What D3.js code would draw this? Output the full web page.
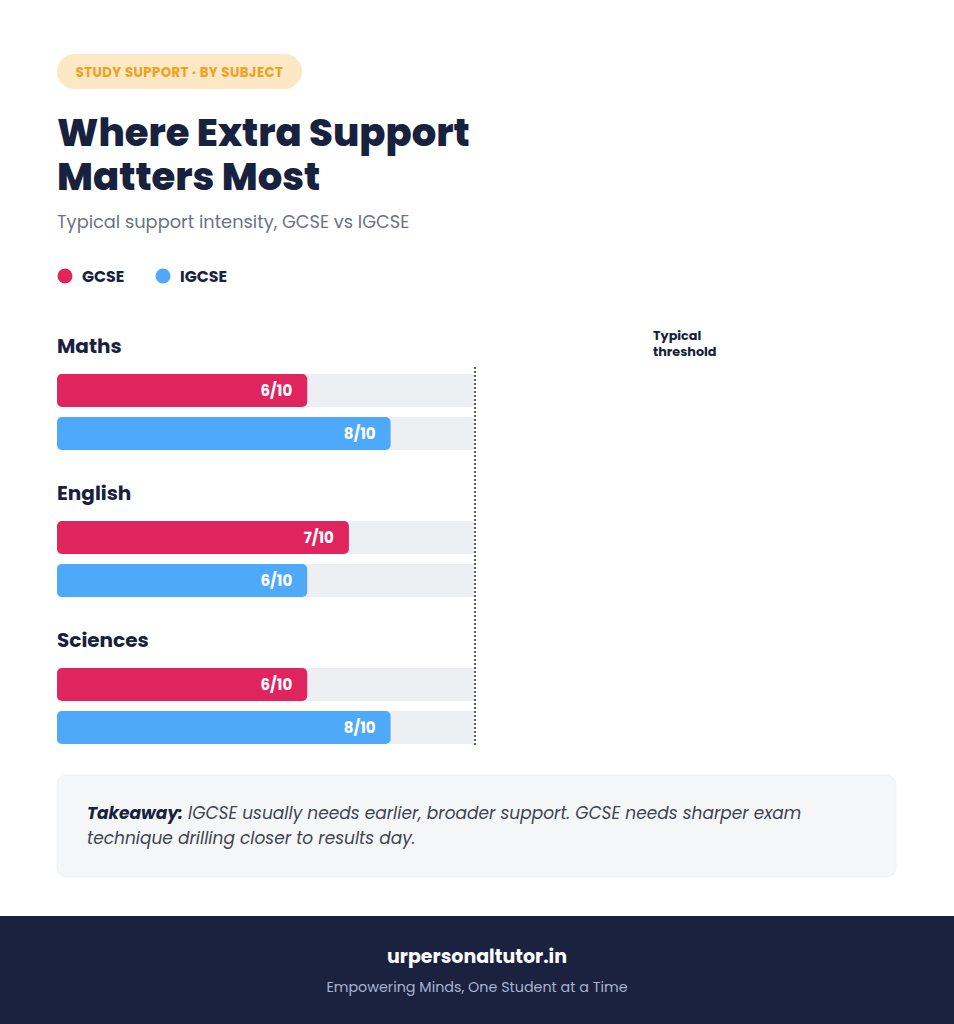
<!DOCTYPE html>
<html><head><meta charset="utf-8">
<script src="https://cdn.jsdelivr.net/npm/d3@7"></script>
<style>body{margin:0;background:#fff}svg{display:block;font-family:Poppins,Inter,"Noto Sans",sans-serif}</style>
</head><body><div id="chart"></div>
<script>
var subjects = ["Maths", "English", "Sciences"];
var series = ["GCSE", "IGCSE"];
var gcse = [6, 7, 6];
var igcse = [8, 6, 8];
var colors = {GCSE: "#e0245e", IGCSE: "#4fa9fb"};
var navy = "#18213d";

var W = 954, H = 1024;
var svg = d3.select("#chart").append("svg").attr("width", W).attr("height", H);

// header
svg.append("rect").attr("x", 57).attr("y", 54).attr("width", 245).attr("height", 35).attr("rx", 17.5).attr("fill", "#fde8c6");
svg.append("text").attr("x", 179.5).attr("y", 76.5).attr("text-anchor", "middle").attr("fill", "#f2a01c")
  .attr("font-size", 13.3).attr("font-weight", 700).attr("letter-spacing", 0.4).text("STUDY SUPPORT · BY SUBJECT");
svg.append("text").attr("x", 57).attr("y", 146).attr("fill", navy).attr("font-size", 38.5).attr("font-weight", 800).text("Where Extra Support");
svg.append("text").attr("x", 57).attr("y", 190).attr("fill", navy).attr("font-size", 38.5).attr("font-weight", 800).text("Matters Most");
svg.append("text").attr("x", 57).attr("y", 228).attr("fill", "#6b7280").attr("font-size", 17.8).text("Typical support intensity, GCSE vs IGCSE");

// legend
var lx = [65, 163];
series.forEach(function(s, i) {
  svg.append("circle").attr("cx", lx[i]).attr("cy", 276).attr("r", 7.5).attr("fill", colors[s]);
  svg.append("text").attr("x", lx[i] + 17).attr("y", 282).attr("fill", navy).attr("font-size", 15.8).attr("font-weight", 700).text(s);
});

// bars
var x = d3.scaleLinear().domain([0, 10]).range([57, 474]);
var groupY = d3.scalePoint().domain(subjects).range([328, 622]);
var barY = d3.scaleBand().domain(series).range([374, 450]).paddingInner(0.233);

subjects.forEach(function(sub, i) {
  var g = svg.append("g").attr("transform", "translate(0," + (groupY(sub) - 328) + ")");
  g.append("text").attr("x", 57).attr("y", 353).attr("fill", navy).attr("font-size", 20).attr("font-weight", 700).text(sub);
  [gcse[i], igcse[i]].forEach(function(v, j) {
    var s = series[j], y = barY(s), h = barY.bandwidth();
    g.append("rect").attr("x", x(0)).attr("y", y).attr("width", x(10) - x(0)).attr("height", h).attr("fill", "#eeeff3");
    g.append("rect").attr("x", x(0)).attr("y", y).attr("width", x(v) - x(0)).attr("height", h).attr("rx", 5).attr("fill", colors[s]);
    g.append("text").attr("x", x(v) - 15).attr("y", y + h / 2 + 5.5).attr("text-anchor", "end").attr("fill", "#fff")
      .attr("font-size", 15).attr("font-weight", 700).text(v + "/10");
  });
});

// threshold
svg.append("line").attr("x1", x(10) + 1).attr("x2", x(10) + 1).attr("y1", 367).attr("y2", 745)
  .attr("stroke", "#222").attr("stroke-width", 1.5).attr("stroke-dasharray", "2,2");
svg.append("text").attr("x", 653).attr("y", 340).attr("fill", navy).attr("font-size", 12.8).attr("font-weight", 700).text("Typical");
svg.append("text").attr("x", 653).attr("y", 356).attr("fill", navy).attr("font-size", 12.8).attr("font-weight", 700).text("threshold");

// takeaway
svg.append("rect").attr("x", 57).attr("y", 775).attr("width", 839).attr("height", 102).attr("rx", 10)
  .attr("fill", "#f5f6f8").attr("stroke", "#eef0f3");
var t1 = svg.append("text").attr("x", 87).attr("y", 819).attr("fill", "#3f4450").attr("font-size", 17).attr("font-style", "italic");
t1.append("tspan").attr("font-weight", 700).attr("fill", navy).text("Takeaway:");
t1.append("tspan").text(" IGCSE usually needs earlier, broader support. GCSE needs sharper exam");
svg.append("text").attr("x", 87).attr("y", 844).attr("fill", "#3f4450").attr("font-size", 17).attr("font-style", "italic")
  .text("technique drilling closer to results day.");

// footer
svg.append("rect").attr("x", 0).attr("y", 916).attr("width", W).attr("height", 108).attr("fill", "#1a2240");
svg.append("text").attr("x", W / 2).attr("y", 963).attr("text-anchor", "middle").attr("fill", "#fff")
  .attr("font-size", 19).attr("font-weight", 700).text("urpersonaltutor.in");
svg.append("text").attr("x", W / 2).attr("y", 992).attr("text-anchor", "middle").attr("fill", "#a9b3d1")
  .attr("font-size", 14.3).text("Empowering Minds, One Student at a Time");
</script></body></html>
